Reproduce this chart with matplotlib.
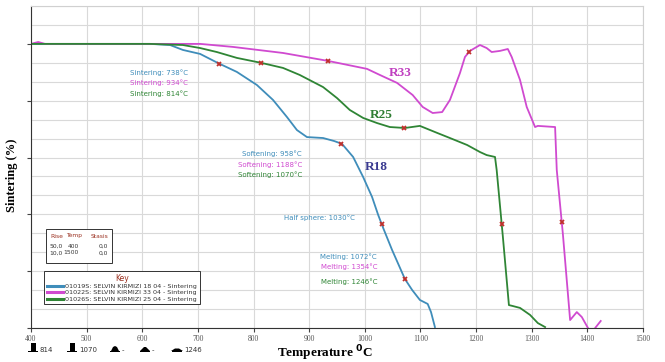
import numpy as np
import matplotlib
matplotlib.use('Agg')
from matplotlib import pyplot as plt
from matplotlib.patches import Rectangle, Polygon
from matplotlib.ticker import MultipleLocator

# curve data (temperature in C, sintering in %)
r18_temp = [400, 614, 650, 673, 704, 736, 770, 806, 835, 860, 878, 896, 925, 945, 959,
            979, 997, 1013, 1024, 1033, 1049, 1072, 1085, 1099, 1113, 1119, 1126]
r18_val = [150, 150, 149.4, 146.8, 144.7, 139.9, 135.2, 128.3, 120.4, 111.4, 104.5, 100.8,
           100.3, 98.7, 97.2, 90.3, 79.7, 69.2, 59.7, 52.8, 41.2, 25.9, 20.1, 14.8, 12.7, 8.4, 0.5]

r25_temp = [400, 614, 673, 704, 734, 770, 815, 853, 883, 925, 950, 973, 997, 1022, 1045,
            1072, 1099, 1130, 1153, 1184, 1207, 1219, 1234, 1237, 1248, 1259, 1266, 1279,
            1297, 1311, 1324]
r25_val = [150, 150, 149.4, 147.8, 145.7, 142.6, 139.9, 137.3, 133.6, 127.2, 121.4, 115.1,
           110.9, 108.2, 106.1, 105.6, 106.7, 103.0, 100.3, 96.6, 92.9, 91.3, 90.3, 83.4,
           48.6, 12.1, 11.6, 10.6, 6.9, 2.6, 0.5]

r33_temp = [400, 413, 425, 614, 704, 763, 853, 934, 1004, 1027, 1058, 1086, 1104, 1122,
            1139, 1153, 1171, 1180, 1189, 1207, 1219, 1228, 1243, 1257, 1264, 1279, 1291,
            1306, 1311, 1342, 1345, 1356, 1369, 1381, 1390, 1403, 1407]
r33_val = [150, 151, 150, 150, 150, 148.4, 145.2, 141.0, 136.8, 133.6, 129.4, 123.0, 116.7,
           113.5, 114.0, 120.4, 134.6, 143.1, 146.3, 149.4, 147.8, 145.7, 146.3, 147.3,
           143.1, 130.9, 116.7, 106.1, 106.7, 106.1, 83.4, 49.6, 4.2, 8.4, 5.8, -1, -3]
r33_tail_temp = [1411, 1414, 1424]
r33_tail_val = [-3, 0, 3.7]

# event temperatures (red markers)
r18_events = [738, 958, 1030, 1072]
r25_events = [814, 1070, 1246]
r33_events = [934, 1188, 1354]

# heating table
rise = ['50,0', '10,0']
temp = ['400', '1500']
stasis = ['0,0', '0,0']

# shape icons
icon_lab = ['814', '1070', '-', '-', '1246']

c_blue = '#3f8dba'
c_purple = '#d04ad0'
c_green = '#2f8535'
c_mark = '#c0302c'

W, H = 665, 362


def fx(px):
    return px / W


def fy(py):
    return 1 - py / H


fig = plt.figure(figsize=(6.65, 3.62), dpi=100)
ax = fig.add_axes([fx(31), fy(328), 612 / W, 322 / H])

ax.plot(r18_temp, r18_val, color=c_blue, lw=1.3)
ax.plot(r33_temp, r33_val, color=c_purple, lw=1.3)
ax.plot(r33_tail_temp, r33_tail_val, color=c_purple, lw=1.3)
ax.plot(r25_temp, r25_val, color=c_green, lw=1.3)

for temps, vals, events in [(r18_temp, r18_val, r18_events),
                            (r25_temp, r25_val, r25_events),
                            (r33_temp, r33_val, r33_events)]:
    ev_vals = np.interp(events, temps, vals)
    ax.plot(events, ev_vals, ls='none', marker='x', ms=3.5, mew=1.3, color=c_mark, zorder=5)

ax.set_xlim(400, 1500)
ax.set_ylim(0, 170)
ax.xaxis.set_major_locator(MultipleLocator(100))
ax.yaxis.set_major_locator(MultipleLocator(30))
ax.yaxis.set_minor_locator(MultipleLocator(10))
ax.grid(True, which='both', color='#d9d9d9', lw=0.8)
ax.set_axisbelow(True)
ax.set_yticklabels([])
ax.tick_params(axis='y', which='major', length=3, width=0.8, color='#444444')
ax.tick_params(axis='y', which='minor', length=0)
ax.tick_params(axis='x', length=3, width=0.8, color='#444444', labelsize=5.5,
               labelcolor='#555555', pad=2)
for lab in ax.get_xticklabels():
    lab.set_family('Liberation Serif')
ax.spines['left'].set_color('#333333')
ax.spines['bottom'].set_color('#333333')
ax.spines['top'].set_color('#d0d0d0')
ax.spines['right'].set_color('#d0d0d0')
for s in ax.spines.values():
    s.set_linewidth(0.8)

# event annotations
ann = dict(fontsize=5, ha='right', va='center', family='DejaVu Sans')
ax.text(682, 134.6, 'Sintering: 738°C', color=c_blue, **ann)
ax.text(682, 129.4, 'Sintering: 934°C', color=c_purple, **ann)
ax.text(682, 123.6, 'Sintering: 814°C', color=c_green, **ann)
ax.text(887, 91.9, 'Softening: 958°C', color=c_blue, **ann)
ax.text(887, 86.1, 'Softening: 1188°C', color=c_purple, **ann)
ax.text(887, 80.8, 'Softening: 1070°C', color=c_green, **ann)
ax.text(982, 58.1, 'Half sphere: 1030°C', color=c_blue, **ann)
ax.text(1022, 37.5, 'Melting: 1072°C', color=c_blue, **ann)
ax.text(1022, 32.2, 'Melting: 1354°C', color=c_purple, **ann)
ax.text(1022, 24.3, 'Melting: 1246°C', color=c_green, **ann)

rlab = dict(fontsize=9.5, fontweight='bold', family='Liberation Serif', ha='center', va='center')
ax.text(1063, 134.6, 'R33', color='#c040c0', **rlab)
ax.text(1029, 112.5, 'R25', color='#2e7d32', **rlab)
ax.text(1020, 85, 'R18', color='#3a3a90', **rlab)

# axis titles
fig.text(fx(12), fy(175), 'Sintering (%)', rotation=90, ha='center', va='center',
         fontsize=9, fontweight='bold', family='Liberation Serif')
fig.text(fx(325), fy(353), 'Temperature $^{\\mathbf{0}}$C', ha='center', va='center',
         fontsize=9.5, fontweight='bold', family='Liberation Serif')

# heating table box
fig.add_artist(Rectangle((fx(46), fy(263)), 66 / W, 34 / H, transform=fig.transFigure,
                         facecolor='white', edgecolor='#333333', lw=0.7, zorder=6))
tcol = '#9b3020'
tab = dict(fontsize=4.3, va='center', ha='right', zorder=7, family='DejaVu Sans')
fig.text(fx(63), fy(236), 'Rise', color=tcol, **tab)
fig.text(fx(82), fy(236), 'Temp', color=tcol, **tab)
fig.text(fx(108), fy(236), 'Stasis', color=tcol, **tab)
for i, py in enumerate([246, 253]):
    fig.text(fx(63), fy(py), rise[i], color='#333333', **tab)
    fig.text(fx(79), fy(py), temp[i], color='#333333', **tab)
    fig.text(fx(108), fy(py), stasis[i], color='#333333', **tab)

# key
h1, = ax.plot([], [], color=c_blue, lw=2.2)
h2, = ax.plot([], [], color=c_purple, lw=2.2)
h3, = ax.plot([], [], color=c_green, lw=2.2)
leg = ax.legend([h1, h2, h3],
                ['01019S: SELVIN KIRMIZI 18 04 - Sintering',
                 '01022S: SELVIN KIRMIZI 33 04 - Sintering',
                 '01026S: SELVIN KIRMIZI 25 04 - Sintering'],
                loc='upper left', bbox_to_anchor=(fx(44), fy(271)),
                bbox_transform=fig.transFigure, title='Key', fancybox=False,
                framealpha=1, edgecolor='#333333', borderpad=0.4, labelspacing=0.15,
                handlelength=2.6, handletextpad=0.3, borderaxespad=0,
                prop={'size': 4.6, 'family': 'DejaVu Sans'})
leg.get_title().set_color(tcol)
leg.get_title().set_fontsize(5.5)
leg.get_frame().set_linewidth(0.7)
for t in leg.get_texts():
    t.set_color('#333333')

# shape icons below the axis
icon_x = [33, 72, 115, 145, 177]
base_y = 352
for i, (px, lab) in enumerate(zip(icon_x, icon_lab)):
    fig.add_artist(Rectangle((fx(px - 5), fy(base_y)), 10 / W, 1.5 / H,
                             transform=fig.transFigure, color='black', lw=0))
    if i < 2:
        fig.add_artist(Rectangle((fx(px - 2.5), fy(base_y - 1)), 5 / W, 8 / H,
                                 transform=fig.transFigure, color='black', lw=0))
    elif i == 2:
        fig.add_artist(Polygon([(fx(px - 4), fy(base_y - 1)), (fx(px - 2), fy(base_y - 5)),
                                (fx(px), fy(base_y - 6)), (fx(px + 2), fy(base_y - 5)),
                                (fx(px + 4), fy(base_y - 1))],
                               transform=fig.transFigure, color='black', lw=0))
    elif i == 3:
        fig.add_artist(Polygon([(fx(px - 5), fy(base_y - 1)), (fx(px - 1), fy(base_y - 5)),
                                (fx(px + 1), fy(base_y - 5)), (fx(px + 5), fy(base_y - 1))],
                               transform=fig.transFigure, color='black', lw=0))
    else:
        fig.add_artist(Polygon([(fx(px - 6), fy(base_y - 1)), (fx(px - 2), fy(base_y - 3.5)),
                                (fx(px + 2), fy(base_y - 3.5)), (fx(px + 6), fy(base_y - 1))],
                               transform=fig.transFigure, color='black', lw=0))
    fig.text(fx(px + 7), fy(base_y - 2), lab, fontsize=5, va='center', ha='left',
             color='#333333', family='DejaVu Sans')

fig.savefig('out.png', dpi=100)
